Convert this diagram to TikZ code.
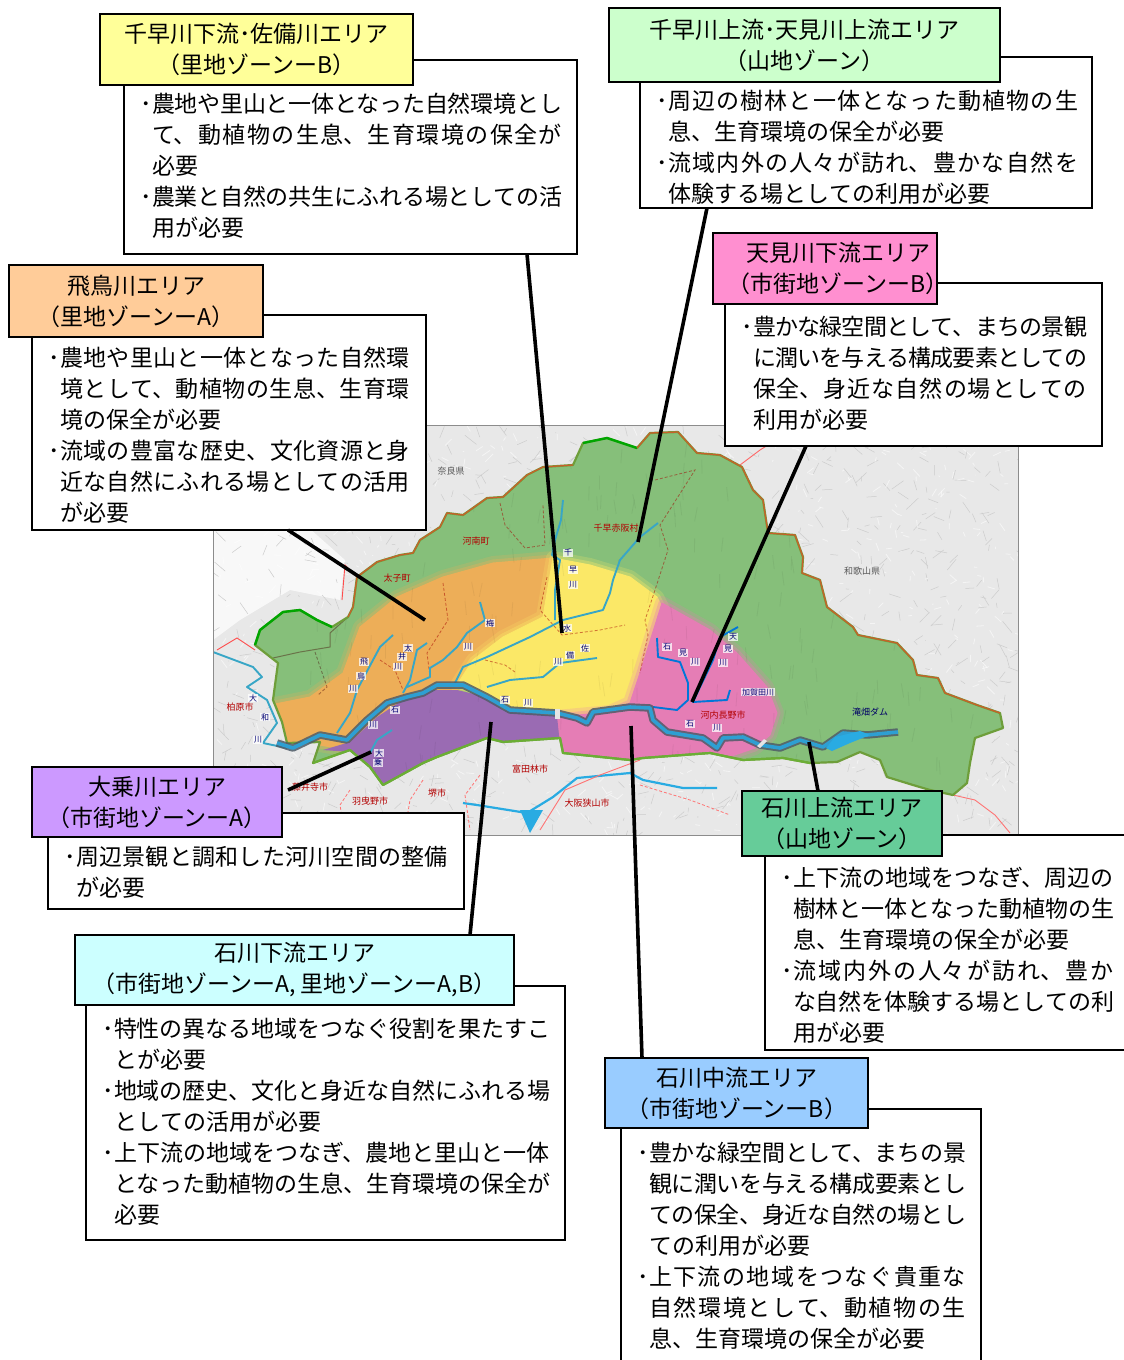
\documentclass[tikz,border=0pt]{standalone}
\usepackage{fontspec}
\setmainfont{Noto Sans CJK JP}
\XeTeXlinebreaklocale "ja"
\XeTeXlinebreakskip=0pt plus 4pt minus 1.2pt
\usetikzlibrary{calc}
\definecolor{zgreen}{HTML}{86BF7A}
\definecolor{zorange}{HTML}{EDAE58}
\definecolor{zyellow}{HTML}{FBE867}
\definecolor{zpink}{HTML}{E57DB5}
\definecolor{zpurple}{HTML}{9A6BB3}
\definecolor{riverc}{HTML}{2E9FD2}
\definecolor{riverd}{HTML}{4F5C68}
\definecolor{tribc}{HTML}{38A6C6}
\definecolor{lakec}{HTML}{29ABE2}
\definecolor{edgeg}{HTML}{6E9E3A}
\definecolor{edges}{HTML}{6BAE35}
\definecolor{edgen}{HTML}{C8602A}
\definecolor{hyellow}{HTML}{FFFF99}
\definecolor{hgreen}{HTML}{CCFFCC}
\definecolor{hpink}{HTML}{FF8FD0}
\definecolor{horange}{HTML}{FFCC99}
\definecolor{hpurple}{HTML}{CC99FF}
\definecolor{hcyan}{HTML}{CCFFFF}
\definecolor{hteal}{HTML}{66CC99}
\definecolor{hblue}{HTML}{99CCFF}
\newcommand\softzone[2]{%
  \path[draw=#1,draw opacity=.22,line width=14pt,line join=round] #2;
  \path[draw=#1,draw opacity=.35,line width=7pt,line join=round] #2;
  \path[fill=#1,draw=#1,line width=1pt,line join=round] #2;}
\newcommand\wshed{(255,645) -- (260,630) -- (283,612) -- (300,610) -- (317,620) -- (332,627) -- (348,617) -- (353,607) -- (357,577) -- (377,562) -- (400,555) -- (413,553) -- (420,540) -- (440,527) -- (447,513) -- (463,515) -- (487,498) -- (503,497) -- (527,475) -- (543,467) -- (573,465) -- (583,443) -- (607,438) -- (637,448) -- (650,433) -- (678,432) -- (697,453) -- (720,455) -- (742,467) -- (753,490) -- (763,500) -- (768,533) -- (795,535) -- (803,557) -- (802,573) -- (820,580) -- (827,607) -- (853,627) -- (858,635) -- (897,643) -- (913,660) -- (917,675) -- (938,678) -- (945,693) -- (977,705) -- (1000,713) -- (1003,728) -- (975,738) -- (970,763) -- (967,783) -- (953,795) -- (930,790) -- (913,785) -- (887,777) -- (880,760) -- (860,752) -- (837,762) -- (810,763) -- (783,758) -- (743,760) -- (710,753) -- (643,758) -- (630,760) -- (563,753) -- (560,738) -- (503,742) -- (487,738) -- (437,757) -- (423,763) -- (383,785) -- (370,767) -- (350,750) -- (313,763) -- (320,742) -- (287,743) -- (282,722) -- (273,700) -- (278,663) -- cycle}
\tikzset{
  x=1pt,y=-1pt,
  frame/.style={draw=black,line width=1.8pt,fill=white,anchor=north west,inner sep=0pt,outer sep=0pt},
  head/.style={draw=black,line width=1.8pt,anchor=north west,inner sep=0pt,outer sep=0pt,align=center,
    font=\fontsize{23}{31}\selectfont},
  bodytext/.style={anchor=north west,inner sep=0pt,outer sep=0pt,align=justify,
    font=\fontsize{23}{31}\selectfont},
  leader/.style={draw=black,line width=3.6pt},
  trib/.style={draw=tribc,line width=1.9pt,line join=round},
  cityb/.style={draw=red!65!black,opacity=.5,line width=.8pt,densely dashed},
  rlabel/.style={text=red!70!black,inner sep=0pt,font=\fontsize{9}{9}\selectfont},
  klabel/.style={text=black!65,inner sep=0pt,font=\fontsize{9}{9}\selectfont},
  wlabel/.style={fill=white,fill opacity=.75,text opacity=1,text=blue!45!black,inner sep=.6pt,font=\fontsize{8}{8}\selectfont},
}
\newcommand\bu{\leavevmode\llap{･}}
\begin{document}
\begin{tikzpicture}
\useasboundingbox (0,0) rectangle (1124,1360);
% ---------- map ----------
\fill[black!9] (213,425) rectangle (1018,835);
\begin{scope}
  \clip (213,425) rectangle (1018,835);
  \pgfmathsetseed{4711}
  \fill[white,opacity=.7] (213,480) -- (300,520) -- (345,560) -- (340,600) -- (290,590) -- (240,620) -- (213,640) -- cycle;
  \foreach \i in {1,...,900}{
    \pgfmathsetmacro\xa{213+rnd*805}
    \pgfmathsetmacro\ya{425+rnd*410}
    \pgfmathsetmacro\xb{\xa+rnd*24-12}
    \pgfmathsetmacro\yb{\ya+rnd*24-12}
    \draw[black!20,line width=.5pt] (\xa,\ya) -- (\xb,\yb);
    \pgfmathsetmacro\xc{213+rnd*805}
    \pgfmathsetmacro\yc{425+rnd*410}
    \draw[white,opacity=.55,line width=.8pt] (\xc,\yc) -- ++(rnd*16-8,rnd*16-8);
  }
  % outside rivers and boundaries
  \draw[trib] (213,652) -- (253,667) -- (262,677) -- (247,687) -- (267,700) -- (277,723) -- (263,743) -- (287,748);
  \draw[trib,draw=lakec,line width=2.2pt] (463,803) -- (477,805) -- (527,813) -- (553,797) -- (577,778) -- (630,773) -- (643,780) -- (683,788) -- (717,788);
  \fill[lakec] (520,810) -- (543,810) -- (530,833) -- cycle;
  \draw[red!70,line width=.9pt] (217,650) -- (237,638) -- (255,650);
  \draw[red!70,line width=.9pt] (342,600) -- (345,565) -- (357,577);
  \draw[red!60,line width=.9pt] (740,465) -- (760,450) -- (768,445);
  \draw[red!55,line width=.9pt] (953,795) -- (975,800) -- (995,815) -- (1010,833);
  \draw[red!55,line width=.9pt] (640,760) -- (600,775) -- (565,790) -- (540,830);
  \draw[red!55,line width=.8pt,densely dashed] (423,780) -- (410,800) -- (405,830);
  \draw[red!55,line width=.8pt,densely dashed] (350,790) -- (340,805) -- (345,835);
  \draw[red!55,line width=.8pt,densely dashed] (480,775) -- (465,795) -- (470,830);
  \draw[red!55,line width=.8pt,densely dashed] (640,785) -- (690,800) -- (730,815);
\end{scope}
\begin{scope}
  \clip \wshed;
  \fill[zgreen] (213,425) rectangle (1018,835);
  \softzone{zorange}{(270,705) -- (310,697) -- (343,673) -- (360,627) -- (397,597) -- (443,577) -- (493,563) -- (553,558) -- (547,593) -- (543,617) -- (503,637) -- (473,660) -- (457,690) -- (430,700) -- (403,710) -- (377,725) -- (347,750) -- (320,745) -- (270,745) -- cycle}
  \softzone{zyellow}{(553,558) -- (590,565) -- (630,577) -- (657,597) -- (662,607) -- (640,673) -- (630,705) -- (610,712) -- (557,716) -- (510,712) -- (487,695) -- (457,685) -- (473,660) -- (503,637) -- (543,617) -- (547,593) -- cycle}
  \softzone{zpink}{(662,603) -- (710,630) -- (737,653) -- (767,687) -- (777,713) -- (770,735) -- (755,748) -- (720,760) -- (643,762) -- (610,762) -- (563,760) -- (557,717) -- (610,712) -- (630,703) -- (640,673) -- cycle}
  \fill[zpurple] (457,690) -- (487,697) -- (503,710) -- (557,716) -- (560,745) -- (503,745) -- (487,742) -- (437,760) -- (423,768) -- (383,790) -- (370,770) -- (350,752) -- (323,750) -- (350,742) -- (377,717) -- (403,700) -- (430,690) -- cycle;
  \foreach \i in {1,...,220}{
    \pgfmathsetmacro\xa{260+rnd*740}
    \pgfmathsetmacro\ya{435+rnd*350}
    \draw[black,opacity=.05,line width=.8pt] (\xa,\ya) -- ++(rnd*6-3,14);
  }
  \draw[black!75!red,opacity=.4,line width=1pt] (273,658) -- (300,652) -- (330,647) -- (330,633) -- (348,617);
  \draw[black!75!red,opacity=.4,line width=.9pt,densely dashed] (315,652) -- (327,687) -- (318,695);
  \draw[cityb] (443,583) -- (448,620) -- (427,653) -- (430,677);
  \draw[cityb] (547,577) -- (540,610) -- (562,635) -- (600,630) -- (625,625);
  \draw[cityb] (500,503) -- (505,525) -- (525,548) -- (545,545) -- (543,505);
  \draw[cityb] (655,480) -- (695,470) -- (660,525) -- (668,550) -- (655,590) -- (645,620) -- (648,635) -- (640,673);
  \draw[cityb] (485,660) -- (505,665) -- (515,672);
  \draw[cityb] (380,660) -- (395,670) -- (403,690);
\end{scope}
\draw[draw=edgeg,line width=2.2pt,line join=round] \wshed;
\draw[green!65!black,line width=2.4pt,line join=round] (255,645) -- (260,630) -- (283,612) -- (300,610) -- (317,620) -- (332,627);
\draw[green!65!black,line width=2.4pt,line join=round] (583,443) -- (607,438) -- (637,448);
\draw[edgen,line width=1.3pt,line join=round] (348,617) -- (353,607) -- (357,577) -- (377,562) -- (400,555) -- (413,553) -- (420,540) -- (440,527) -- (447,513) -- (463,515) -- (487,498) -- (503,497) -- (527,475) -- (543,467) -- (573,465);
\draw[edgen,line width=1.3pt,line join=round] (637,448) -- (650,433) -- (678,432) -- (697,453) -- (720,455) -- (742,467) -- (753,490) -- (763,500) -- (768,533) -- (795,535) -- (803,557) -- (802,573) -- (820,580) -- (827,607) -- (853,627) -- (858,635) -- (897,643) -- (913,660) -- (917,675) -- (938,678) -- (945,693) -- (977,705) -- (1000,713);
\draw[edges,line width=2.2pt,line join=round] (313,763) -- (350,750) -- (370,767) -- (383,785) -- (423,763) -- (437,757) -- (487,738) -- (503,742) -- (560,738) -- (563,753) -- (630,760) -- (643,758) -- (710,753) -- (743,760) -- (783,758) -- (810,763);
% tributaries
\draw[trib] (563,500) -- (561,520) -- (555,540) -- (552,555) -- (560,560) -- (555,590) -- (555,620);
\draw[trib] (658,523) -- (640,537) -- (620,560) -- (613,580) -- (610,593) -- (603,610) -- (563,620) -- (530,637) -- (487,657) -- (463,667) -- (455,683);
\draw[trib] (597,658) -- (560,663) -- (543,677) -- (510,680) -- (487,687);
\draw[trib] (480,602) -- (485,620) -- (467,633) -- (457,647) -- (443,660) -- (430,668) -- (430,677) -- (407,687);
\draw[trib] (393,635) -- (380,647) -- (373,660) -- (357,690) -- (350,713) -- (337,733);
\draw[trib] (427,643) -- (417,650) -- (410,680) -- (403,693);
\draw[trib] (392,730) -- (377,740) -- (370,753);
\draw[trib,draw=blue!45!cyan!85!black] (657,638) -- (658,657) -- (680,662) -- (688,683) -- (688,700) -- (677,710) -- (653,707);
\draw[trib,draw=blue!45!cyan!85!black] (738,627) -- (720,637) -- (713,660) -- (700,687) -- (693,702) -- (727,700) -- (730,690);
% main river
\newcommand\mainriver{(277,743) -- (293,748) -- (320,735) -- (347,740) -- (367,720) -- (387,703) -- (407,697) -- (423,693) -- (437,685) -- (463,685) -- (487,697) -- (510,710) -- (557,713) -- (577,718) -- (587,723) -- (593,712) -- (630,707) -- (650,708) -- (653,720) -- (667,732) -- (703,738) -- (717,748) -- (723,738) -- (743,737) -- (760,745) -- (780,748) -- (800,740) -- (823,747) -- (843,733) -- (867,735) -- (898,732)}
\draw[riverd,line width=7.5pt,line join=round,opacity=.85] \mainriver;
\draw[riverc,line width=3.6pt,line join=round] \mainriver;
\fill[lakec] (826,748) -- (835,737) -- (860,731) -- (870,735) -- (850,743) -- (832,751) -- cycle;
\fill[white!90!black] (555,709) rectangle (560,719);
\fill[white!90!black] (757,746) -- (764,739) -- (767,741) -- (760,748) -- cycle;
% map labels
\foreach \t/\xx/\yy [count=\c] in {奈良県/451/471,和歌山県/862/571}
  \node[klabel] (k\c) at (\xx,\yy) {\t};
\foreach \t/\xx/\yy [count=\c] in {河南町/476/541,太子町/397/578,千早赤阪村/616/528,河内長野市/723/715,羽曳野市/370/801,富田林市/530/769,大阪狭山市/587/803,堺市/437/793,柏原市/240/707,藤井寺市/310/787}
  \node[rlabel] (r\c) at (\xx,\yy) {\t};
\node[klabel,text=blue!40!black] (dam) at (870,712) {滝畑ダム};
\foreach \t/\xx/\yy [count=\c] in {大/253/698,和/265/717,川/258/740,飛/364/662,鳥/361/676,川/353/689,太/408/648,井/402/657,川/398/667,梅/490/623,川/468/647,千/568/553,早/573/570,川/573/585,水/567/628,佐/585/648,備/570/655,川/558/662,石/395/710,川/373/725,石/505/700,川/528/703,天/733/637,見/728/649,川/723/663,石/667/647,見/683/653,川/695/662,石/690/724,川/717/728,大/379/753,乗/378/763,加賀田川/758/692}
  \node[wlabel] (w\c) at (\xx,\yy) {\t};
\draw[black!45,line width=1pt] (213,425) rectangle (1018,835);
% anchors of leaders on the map
\coordinate (p1) at (562,633);
\coordinate (p2) at (638,542);
\coordinate (p3) at (692,702);
\coordinate (p4) at (425,620);
\coordinate (p5) at (371,752);
\coordinate (p6) at (491,722);
\coordinate (p7) at (631,726);
\coordinate (p8) at (809,742);
% ---------- frames ----------
\node[frame,minimum width=453pt,minimum height=194pt] (b1) at (124,60) {};
\node[frame,minimum width=452pt,minimum height=151pt] (b2) at (640,57) {};
\node[frame,minimum width=377pt,minimum height=163pt] (b3) at (725,283) {};
\node[frame,minimum width=394pt,minimum height=215pt] (b4) at (32,315) {};
\node[frame,minimum width=416pt,minimum height=96pt] (b5) at (48,813) {};
\node[frame,minimum width=479pt,minimum height=254pt] (b6) at (86,986) {};
\node[frame,minimum width=365pt,minimum height=215pt] (b7) at (765,835) {};
\node[frame,minimum width=360pt,minimum height=265pt] (b8) at (621,1109) {};
% ---------- leaders ----------
\draw[leader] ([xshift=403pt]b1.south west) -- (p1);
\draw[leader] ([xshift=67pt]b2.south west) -- (p2);
\draw[leader] ([xshift=81pt]b3.south west) -- (p3);
\draw[leader] ([xshift=256pt]b4.south west) -- (p4);
% ---------- headers ----------
\node[head,fill=hyellow,minimum width=313pt,minimum height=71pt] (h1) at (100,14) {千早川下流･佐備川エリア\\（里地ゾーンーB）};
\node[head,fill=hgreen,minimum width=391pt,minimum height=74pt] (h2) at (609,8) {千早川上流･天見川上流エリア\\（山地ゾーン）};
\node[head,fill=hpink,minimum width=224pt,minimum height=71pt] (h3) at (713,233) {\makebox[200pt][c]{\hspace*{26pt}天見川下流エリア}\\\makebox[200pt][c]{\hspace*{26pt}（市街地ゾーンーB）}};
\node[head,fill=horange,minimum width=254pt,minimum height=72pt] (h4) at (9,265) {飛鳥川エリア\\（里地ゾーンーA）};
\node[head,fill=hpurple,minimum width=250pt,minimum height=70pt] (h5) at (32,767) {大乗川エリア\\（市街地ゾーンーA）};
\node[head,fill=hcyan,minimum width=439pt,minimum height=70pt] (h6) at (75,935) {石川下流エリア\\（市街地ゾーンーA, 里地ゾーンーA,B）};
\node[head,fill=hteal,minimum width=200pt,minimum height=65pt] (h7) at (742,791) {石川上流エリア\\（山地ゾーン）};
\node[head,fill=hblue,minimum width=263pt,minimum height=70pt] (h8) at (605,1058) {石川中流エリア\\（市街地ゾーンーB）};
\draw[leader] ([xshift=6pt,yshift=47pt]h5.south east) -- (p5);
\draw[leader] ([xshift=395pt]h6.north west) -- (p6);
\draw[leader] ([xshift=37pt]h8.north west) -- (p7);
\draw[leader] ([xshift=76pt]h7.north west) -- (p8);
% ---------- body text ----------
\node[bodytext,text width=410pt] (t1) at (152,93) {\bu 農地や里山と一体となった自然環境とし\linebreak て、動植物の生息、生育環境の保全が\linebreak 必要\newline\bu 農業と自然の共生にふれる場としての活\linebreak 用が必要};
\node[bodytext,text width=410pt] (t2) at (668,90) {\bu 周辺の樹林と一体となった動植物の生\linebreak 息、生育環境の保全が必要\newline\bu 流域内外の人々が訪れ、豊かな自然を\linebreak 体験する場としての利用が必要};
\node[bodytext,text width=334pt] (t3) at (753,316) {\bu 豊かな緑空間として、まちの景観\linebreak に潤いを与える構成要素としての\linebreak 保全、身近な自然の場としての\linebreak 利用が必要};
\node[bodytext,text width=350pt] (t4) at (60,347) {\bu 農地や里山と一体となった自然環\linebreak 境として、動植物の生息、生育環\linebreak 境の保全が必要\newline\bu 流域の豊富な歴史、文化資源と身\linebreak 近な自然にふれる場としての活用\linebreak が必要};
\node[bodytext,text width=372pt] (t5) at (76,846) {\bu 周辺景観と調和した河川空間の整備\linebreak が必要};
\node[bodytext,text width=436pt] (t6) at (114,1018) {\bu 特性の異なる地域をつなぐ役割を果たすこ\linebreak とが必要\newline\bu 地域の歴史、文化と身近な自然にふれる場\linebreak としての活用が必要\newline\bu 上下流の地域をつなぎ、農地と里山と一体\linebreak となった動植物の生息、生育環境の保全が\linebreak 必要};
\node[bodytext,text width=321pt] (t7) at (793,867) {\bu 上下流の地域をつなぎ、周辺の\linebreak 樹林と一体となった動植物の生\linebreak 息、生育環境の保全が必要\newline\bu 流域内外の人々が訪れ、豊か\linebreak な自然を体験する場としての利\linebreak 用が必要};
\node[bodytext,text width=317pt] (t8) at (649,1142) {\bu 豊かな緑空間として、まちの景\linebreak 観に潤いを与える構成要素とし\linebreak ての保全、身近な自然の場とし\linebreak ての利用が必要\newline\bu 上下流の地域をつなぐ貴重な\linebreak 自然環境として、動植物の生\linebreak 息、生育環境の保全が必要};
\end{tikzpicture}
\end{document}
